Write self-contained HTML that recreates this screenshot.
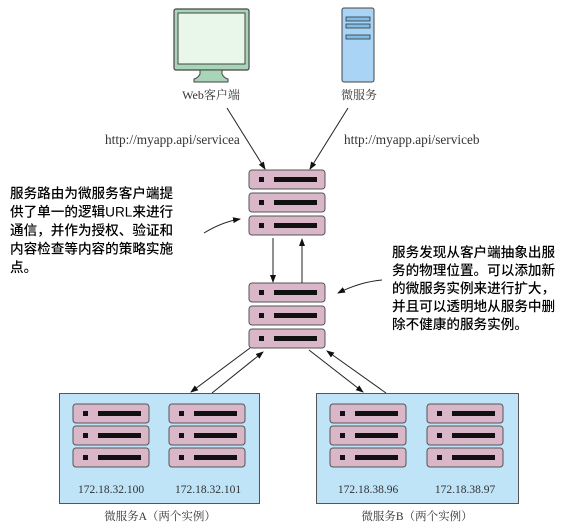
<!DOCTYPE html>
<html><head><meta charset="utf-8"><style>
html,body{margin:0;padding:0;background:#fff;}
svg{display:block}
.cn{font-family:"Liberation Sans","Noto Sans CJK SC",sans-serif;font-size:13.6px;fill:#000;font-weight:500;}
.sf{font-family:"Liberation Serif","Noto Serif CJK SC",serif;fill:#333;}
</style></head><body>
<svg width="569" height="529" viewBox="0 0 569 529" xmlns="http://www.w3.org/2000/svg">
<defs>
<marker id="ah" markerWidth="8" markerHeight="8" refX="7" refY="4" orient="auto" markerUnits="userSpaceOnUse">
<path d="M0,1 L8,4 L0,7 Z" fill="#111"/></marker>
<g id="row">
<rect x="0" y="0" width="76" height="19" rx="3" fill="#d9b6c8" stroke="#555" stroke-width="1"/>
<rect x="10" y="7" width="5" height="5" fill="#111"/>
<rect x="25" y="7" width="43" height="5" fill="#111"/>
</g>
<g id="stack">
<use href="#row" y="0"/><use href="#row" y="23"/><use href="#row" y="46"/>
</g>
<g id="bstack">
<use href="#row" y="0"/><use href="#row" y="22"/><use href="#row" y="44"/>
</g>
</defs>

<rect x="174" y="9" width="75" height="61" rx="2" fill="#a8d4b8" stroke="#444" stroke-width="1.2"/>
<rect x="178" y="13" width="67" height="51" fill="#e8f7ea" stroke="#444" stroke-width="1"/>
<path d="M200,70 L222,70 L222,74 Q224,78 228,79 L228,82 L194,82 L194,79 Q198,78 200,74 Z" fill="#a8d4b8" stroke="#444" stroke-width="1"/>
<text x="211" y="99" text-anchor="middle" class="sf" font-size="12">Web客户端</text>

<rect x="342" y="8" width="32" height="74" rx="2" fill="#a9d4f5" stroke="#444" stroke-width="1"/>
<rect x="346" y="17" width="24" height="4" fill="#7fbde8" stroke="#333" stroke-width="0.8"/>
<rect x="346" y="24" width="24" height="4" fill="#7fbde8" stroke="#333" stroke-width="0.8"/>
<rect x="346" y="35" width="24" height="4" fill="#7fbde8" stroke="#333" stroke-width="0.8"/>
<text x="359" y="99" text-anchor="middle" class="sf" font-size="12">微服务</text>

<text x="105" y="144" class="sf" font-size="13.3">http://myapp.api/servicea</text>
<text x="344" y="144" class="sf" font-size="13.3">http://myapp.api/serviceb</text>

<line x1="227" y1="108" x2="265" y2="169" stroke="#222" stroke-width="1" marker-end="url(#ah)"/>
<line x1="348" y1="108" x2="310" y2="169" stroke="#222" stroke-width="1" marker-end="url(#ah)"/>

<use href="#stack" x="249" y="170"/>
<use href="#stack" x="249" y="283"/>

<line x1="273" y1="238" x2="273" y2="282" stroke="#222" stroke-width="1" marker-end="url(#ah)"/>
<line x1="302" y1="283" x2="302" y2="239" stroke="#222" stroke-width="1" marker-end="url(#ah)"/>

<text class="cn"><tspan x="10" y="198">服务路由为微服务客户端提</tspan><tspan x="10" y="216.5">供了单一的逻辑URL来进行</tspan><tspan x="10" y="235">通信，并作为授权、验证和</tspan><tspan x="10" y="253.5">内容检查等内容的策略实施</tspan><tspan x="10" y="272">点。</tspan></text>
<path d="M204,233 Q222,222 240,219" fill="none" stroke="#222" stroke-width="1" marker-end="url(#ah)"/>

<text class="cn"><tspan x="392" y="257">服务发现从客户端抽象出服</tspan><tspan x="392" y="275">务的物理位置。可以添加新</tspan><tspan x="392" y="293">的微服务实例来进行扩大，</tspan><tspan x="392" y="311">并且可以透明地从服务中删</tspan><tspan x="392" y="329">除不健康的服务实例。</tspan></text>
<path d="M382,280 Q360,282 338,293" fill="none" stroke="#222" stroke-width="1" marker-end="url(#ah)"/>

<line x1="250" y1="348" x2="191" y2="392" stroke="#222" stroke-width="1" marker-end="url(#ah)"/>
<line x1="212" y1="393" x2="263" y2="352" stroke="#222" stroke-width="1" marker-end="url(#ah)"/>
<line x1="309" y1="350" x2="363" y2="392" stroke="#222" stroke-width="1" marker-end="url(#ah)"/>
<line x1="386" y1="393" x2="327" y2="351" stroke="#222" stroke-width="1" marker-end="url(#ah)"/>

<rect x="59.5" y="393.5" width="200" height="110" fill="#bfe3f7" stroke="#555" stroke-width="1"/>
<use href="#bstack" x="73" y="404"/>
<use href="#bstack" x="169" y="404"/>
<text x="111" y="493" text-anchor="middle" class="sf" font-size="11.5">172.18.32.100</text>
<text x="208" y="493" text-anchor="middle" class="sf" font-size="11.5">172.18.32.101</text>
<text x="160" y="520" text-anchor="middle" class="sf" font-size="11.5">微服务A（两个实例）</text>

<rect x="316.5" y="393.5" width="202" height="110" fill="#bfe3f7" stroke="#555" stroke-width="1"/>
<use href="#bstack" x="330" y="404"/>
<use href="#bstack" x="427" y="404"/>
<text x="368" y="493" text-anchor="middle" class="sf" font-size="11.5">172.18.38.96</text>
<text x="465" y="493" text-anchor="middle" class="sf" font-size="11.5">172.18.38.97</text>
<text x="417" y="520" text-anchor="middle" class="sf" font-size="11.5">微服务B（两个实例）</text>
</svg>
</body></html>
